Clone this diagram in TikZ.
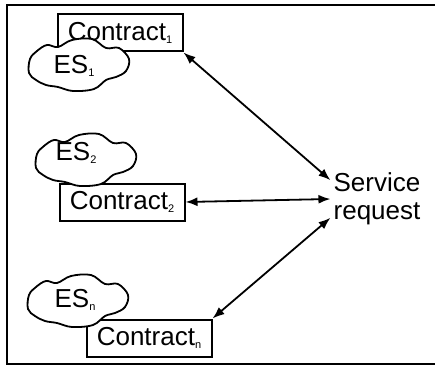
\documentclass[tikz,border=0pt]{standalone}
\usepackage{fontspec}
\setmainfont{Liberation Sans}
\usetikzlibrary{arrows.meta}
\newcommand{\idx}[1]{\raisebox{-3pt}{\fontsize{11}{11}\selectfont #1}}
% hand-drawn cloud round a centre, units as in the picture
\newcommand{\esblob}[1]{%
  \draw[blob,shift={#1}] plot[smooth cycle,tension=.6] coordinates {
    (-49,8) (-48,-6) (-41,-14) (-31,-20) (-20,-18) (-6,-25) (14,-26)
    (28,-17) (41,-17) (51,-6) (48,6) (38,12) (28,15) (16,24)
    (-5,26) (-20,22) (-32,20) (-42,15)};}
\tikzset{
  frame/.style={line width=2.8pt},
  contract/.style={draw,line width=2pt,fill=white,minimum width=125pt,minimum height=37pt,inner sep=0pt,font=\fontsize{26}{28}\selectfont},
  blob/.style={draw,line width=1.8pt,fill=white},
  es/.style={inner sep=0pt,font=\fontsize{26}{28}\selectfont},
  link/.style={{Latex[length=12pt,width=9pt]}-{Latex[length=12pt,width=9pt]},line width=1.8pt}
}
\begin{document}
\begin{tikzpicture}[x=1pt,y=-1pt]
\useasboundingbox (0,0) rectangle (435,366);
\draw[frame] (7,5) rectangle (445,364);
% contracts first, the clouds sit on top of them
\node[contract] (c1) at (120,33) {Contract\idx{1}};
\node[contract] (c2) at (122,202) {Contract\idx{2}};
\node[contract] (cn) at (149,338) {Contract\idx{n}};
\esblob{(78,65)}
\esblob{(85,160)}
\esblob{(77,301)}
\node[es] (es1) at (74,66) {ES\idx{1}};
\node[es] (es2) at (76,153) {ES\idx{2}};
\node[es] (esn) at (75,300) {ES\idx{n}};
\node[align=left,inner sep=3pt,font=\fontsize{26}{28}\selectfont] (srv) at (377,199) {Service\\request};
% links to the request
\draw[link] (c1.south east) -- (srv.158);
\draw[link] (c2.east) -- (srv.west);
\draw[link] (cn.north east) -- (srv.202);
\end{tikzpicture}
\end{document}
